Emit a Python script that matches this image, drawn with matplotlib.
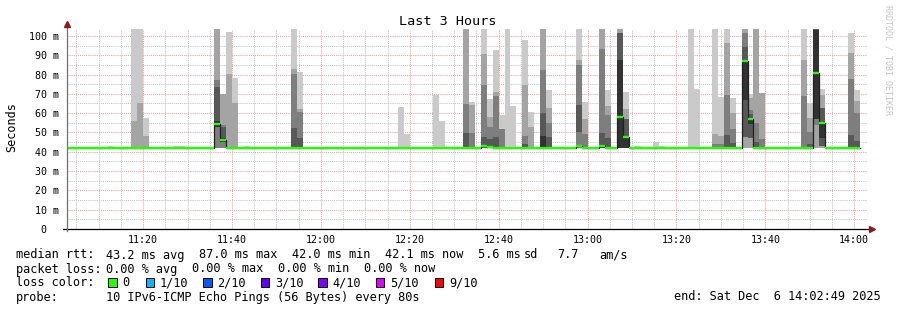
import matplotlib
matplotlib.use("Agg")
import matplotlib.pyplot as plt
from matplotlib.patches import Rectangle
from matplotlib.ticker import MultipleLocator

plt.rcParams["font.family"] = ["DejaVu Sans Mono"]

W, H = 897, 310

# time axis in minutes after 11:00
view_start = 2 + 49 / 60      # 11:02:49
view_end = 182 + 49 / 60      # 14:02:49
step = 80 / 60                # one probe round every 80 s
first_step = 2 + 40 / 60      # 11:02:40

x_ticks = [20, 40, 60, 80, 100, 120, 140, 160, 180]
x_labels = ["11:20", "11:40", "12:00", "12:20", "12:40",
            "13:00", "13:20", "13:40", "14:00"]
y_ticks = [0, 10, 20, 30, 40, 50, 60, 70, 80, 90, 100]
y_labels = ["  0  ", " 10 m", " 20 m", " 30 m", " 40 m", " 50 m",
            " 60 m", " 70 m", " 80 m", " 90 m", "100 m"]

# median rtt per 80 s step (ms)
median_ms = [
    42.0, 42.0, 42.0, 42.0, 42.0, 42.0, 42.0, 42.0, 42.0, 42.0,
    42.0, 42.0, 42.0, 42.0, 42.0, 42.0, 42.0, 42.0, 42.0, 42.0,
    42.0, 42.0, 42.0, 42.0, 42.0, 54.4, 46.1, 42.0, 42.0, 42.0,
    42.0, 42.0, 42.0, 42.0, 42.0, 42.0, 42.0, 42.0, 42.0, 42.0,
    42.0, 42.0, 42.0, 42.0, 42.0, 42.0, 42.0, 42.0, 42.0, 42.0,
    42.0, 42.0, 42.0, 42.0, 42.0, 42.0, 42.0, 42.0, 42.0, 42.0,
    42.0, 42.0, 42.0, 42.0, 42.0, 42.0, 42.0, 42.0, 42.0, 42.0,
    42.9, 42.6, 42.0, 42.0, 42.0, 42.0, 42.0, 42.0, 42.0, 42.0,
    42.0, 42.0, 42.0, 42.0, 42.0, 42.0, 42.8, 42.0, 42.0, 42.0,
    43.0, 42.0, 42.0, 58.0, 47.6, 42.0, 42.0, 42.0, 42.0, 42.0,
    42.0, 42.0, 42.0, 42.0, 42.0, 42.0, 42.0, 42.0, 42.0, 42.0,
    42.0, 42.0, 42.0, 42.0, 87.0, 57.0, 42.0, 42.0, 42.0, 42.0,
    42.0, 42.0, 42.0, 42.0, 42.0, 42.0, 80.8, 55.0, 42.0, 42.0,
    42.0, 42.0, 42.0, 42.1,
]

# steps where the 10 pings spread out, with the sorted ping times (ms)
smoke_steps = [7, 11, 12, 13, 18, 19, 25, 26, 27, 28, 30, 38, 39, 56, 57,
               62, 63, 67, 68, 70, 71, 72, 73, 74, 75, 77, 78, 80, 81, 86,
               87, 90, 91, 93, 94, 96, 99, 100, 105, 106, 109, 110, 111,
               112, 114, 115, 116, 117, 124, 125, 126, 127, 132, 133]
smoke_pings = [
    [42, 42, 42, 42, 42, 42, 42, 42, 42, 43],
    [42, 42, 42, 42, 42, 42, 42, 42, 55.9, 110],
    [42, 42, 42, 42, 42, 42, 42, 42, 65.3, 110],
    [42, 42, 42, 42, 42, 42, 42, 42, 48.1, 57.5],
    [42, 42, 42, 42, 42, 42, 42, 42, 42, 42.9],
    [42, 42, 42, 42, 42, 42, 42, 42, 42, 42.9],
    [42, 42, 42, 52.6, 52.6, 56, 73.5, 77, 110, 110],
    [42, 42, 42, 45, 45, 47, 52.6, 53.8, 69.8, 69.8],
    [42, 42, 42, 42, 42, 42, 42, 42, 80.3, 102],
    [42, 42, 42, 42, 42, 42, 42, 42, 65.2, 78.2],
    [42, 42, 42, 42, 42, 42, 42, 42, 42, 42.9],
    [42, 42, 42, 42, 42, 42, 52.3, 80.3, 82.9, 110],
    [42, 42, 42, 42, 42, 42, 47.1, 60.6, 62, 81.3],
    [42, 42, 42, 42, 42, 42, 42, 42, 42, 63.2],
    [42, 42, 42, 42, 42, 42, 42, 42, 42, 49.2],
    [42, 42, 42, 42, 42, 42, 42, 42, 42, 69.6],
    [42, 42, 42, 42, 42, 42, 42, 42, 42, 55.9],
    [42, 42, 42, 42, 42, 42, 49.8, 64.8, 110, 110],
    [42, 42, 42, 42, 42, 42, 42, 49.9, 64.1, 65.8],
    [42, 42, 42, 42, 42.5, 43.3, 47.6, 74.4, 90.5, 110],
    [42, 42, 42, 42, 42.3, 42.9, 46.5, 52.8, 58, 67.3],
    [42, 42, 42, 42, 42, 42, 47.5, 69, 71, 92.7],
    [42, 42, 42, 42, 42, 42, 42, 51.6, 51.6, 59],
    [42, 42, 42, 42, 42, 42, 42, 42, 42, 110],
    [42, 42, 42, 42, 42, 42, 42, 42, 42, 63.7],
    [42, 42, 42, 42, 42, 42, 44, 48.3, 74.5, 97.9],
    [42, 42, 42, 42, 42, 42, 42, 42, 52.8, 60.6],
    [42, 42, 42, 42, 42, 48.1, 60.2, 82.5, 110, 110],
    [42, 42, 42, 42, 42, 42, 47.5, 55, 62.6, 71.9],
    [42, 42, 42, 50.2, 50.2, 50.2, 64, 85.1, 87.4, 110],
    [42, 42, 42, 42, 42, 42, 42, 49, 57, 65.5],
    [42, 42, 42, 42, 42, 43, 49.8, 93.2, 110, 110],
    [42, 42, 42, 42, 42, 42, 47, 59, 63.7, 72],
    [42, 42, 42, 42, 42, 87.7, 101.5, 101.5, 110, 110],
    [42, 42, 42, 42, 42, 47.5, 57, 57, 62.1, 70.8],
    [42, 42, 42, 42, 42, 42, 42, 42, 42, 43],
    [42, 42, 42, 42, 42, 42, 42, 42, 42, 44.9],
    [42, 42, 42, 42, 42, 42, 42, 42, 42, 43],
    [42, 42, 42, 42, 42, 42, 42, 42, 42, 110],
    [42, 42, 42, 42, 42, 42, 42, 42, 42, 72.3],
    [42, 42, 42, 42, 42, 42, 42, 44, 49, 110],
    [42, 42, 42, 42, 42, 42, 42, 44, 48, 68.4],
    [42, 42, 42, 42, 42, 42, 48.5, 69.6, 96.5, 110],
    [42, 42, 42, 42, 42, 42, 44.5, 52, 60.2, 67.8],
    [42, 42, 47.8, 47.8, 66.8, 87, 94.4, 101.5, 110, 110],
    [42, 42, 47, 47, 54.4, 57, 59.5, 61.6, 67.8, 69.9],
    [42, 42, 42, 42, 42, 42, 45, 55, 110, 110],
    [42, 42, 42, 42, 42, 42, 42, 46.8, 70.6, 70.6],
    [42, 42, 42, 42, 42, 42, 42, 68.9, 87.5, 110],
    [42, 42, 42, 42, 42, 42, 44, 50, 57.3, 65.4],
    [42, 42, 54, 57, 57, 103, 104, 104, 110, 110],
    [42, 42, 43, 43, 47, 55, 62.8, 62.8, 69.4, 72.3],
    [42, 42, 42, 42, 42, 42, 48.5, 77.6, 91, 101.6],
    [42, 42, 42, 42, 42, 42, 45.5, 60, 66.2, 72],
]

loss_labels = ["0", "1/10", "2/10", "3/10", "4/10", "5/10", "9/10"]
loss_colors = ["#26ff00", "#00b8ff", "#0059ff", "#5e00ff",
               "#7e00ff", "#dd00ff", "#ff0000"]

# smokeping greys, outer pair lightest
smoke_grey = ["#cacaca", "#a4a4a4", "#7e7e7e", "#585858", "#323232"]


def px(x, y):
    return x / W, 1 - y / H


fig = plt.figure(figsize=(W / 100, H / 100), dpi=100)
fig.patch.set_facecolor("white")
ax = fig.add_axes([66.7 / W, 1 - 228.8 / H, 800 / W, 200 / H])
ax.set_xlim(view_start, view_end)
ax.set_ylim(0, 103.7)

# smoke: pairs of sorted pings, inner pairs darker
xs = [first_step + s * step for s in smoke_steps]
for band in range(5):
    lo = [p[band] for p in smoke_pings]
    hi = [p[9 - band] for p in smoke_pings]
    ax.bar(xs, [h - l for h, l in zip(hi, lo)], width=step, bottom=lo,
           align="edge", color=smoke_grey[band], linewidth=0, zorder=1)

# median: thin dark step line plus the loss-coloured band
edges = [first_step + i * step for i in range(len(median_ms) + 1)]
ax.step(edges, median_ms + [median_ms[-1]], where="post",
        color="#202020", lw=0.9, zorder=2)
ax.hlines(median_ms, edges[:-1], edges[1:], colors=loss_colors[0],
          lw=1.7, zorder=2.1)

# grid under the data
ax.set_xticks(x_ticks)
ax.set_xticklabels(x_labels)
ax.set_yticks(y_ticks)
ax.set_yticklabels(y_labels)
ax.xaxis.set_minor_locator(MultipleLocator(5))
ax.yaxis.set_minor_locator(MultipleLocator(5))
ax.set_axisbelow(True)
ax.grid(which="major", color="#f0a0a0", lw=0.75, ls=(0, (1, 1)))
ax.grid(which="minor", color="#c4c4c4", lw=0.75, ls=(0, (1, 1)))
for s in ax.spines.values():
    s.set_visible(False)
ax.tick_params(which="both", length=0)
ax.tick_params(axis="x", labelsize=7.2, pad=4.2)
ax.tick_params(axis="y", labelsize=7.2, pad=26.8)
plt.setp(ax.get_yticklabels(), ha="left")

# axes with arrows
ax.plot([-4 / 800, 1 + 3 / 800], [0, 0], transform=ax.transAxes,
        color="black", lw=0.9, clip_on=False, zorder=3)
ax.plot([0, 0], [-2 / 200, 1 + 5 / 200], transform=ax.transAxes,
        color="#707070", lw=0.9, clip_on=False, zorder=3)
ax.plot([0], [1 + 4.5 / 200], marker="^", ms=4.2, color="#8b1a1a",
        transform=ax.transAxes, clip_on=False, zorder=4)
ax.plot([1 + 5 / 800], [0], marker=">", ms=4.2, color="#8b1a1a",
        transform=ax.transAxes, clip_on=False, zorder=4)

fig.text(*px(448, 25), "Last 3 Hours", ha="center", va="baseline",
         fontsize=9.7)
fig.text(*px(11.8, 127), "Seconds", rotation=90, ha="center", va="center",
         fontsize=8.5)
fig.text(*px(888, 60), "RRDTOOL / TOBI OETIKER", rotation=270,
         ha="center", va="center", fontsize=6, color="#c4c4c4")

# legend block
leg = dict(fontsize=8.55, va="baseline", ha="left")
row1 = [("median rtt:", 15.5), ("43.2 ms avg", 106), ("87.0 ms max", 199),
        ("42.0 ms min", 292), ("42.1 ms now", 385), ("5.6 ms", 478),
        ("sd", 524), ("7.7", 557), ("am/s", 599)]
row2 = [("packet loss:", 15.5), ("0.00 % avg", 106), ("0.00 % max", 192),
        ("0.00 % min", 278), ("0.00 % now", 364)]
for txt, x in row1:
    fig.text(*px(x, 258.5), txt, **leg)
for txt, x in row2:
    fig.text(*px(x, 272.5), txt, **leg)

fig.text(*px(15.5, 286.5), "loss color:", **leg)
box_x = [108.3, 145.7, 203.3, 261, 318.3, 376, 435]
lab_x = [122.7, 159.3, 217, 275, 332.7, 390.4, 449.3]
for lab, col, bx, lx in zip(loss_labels, loss_colors, box_x, lab_x):
    fig.patches.append(Rectangle(px(bx, 286.7), 8.4 / W, 9 / H,
                                 transform=fig.transFigure, facecolor=col,
                                 edgecolor="black", lw=0.7))
    fig.text(*px(lx, 286.5), lab, **leg)

fig.text(*px(15.5, 300.5), "probe:", **leg)
fig.text(*px(106, 300.5), "10 IPv6-ICMP Echo Pings (56 Bytes) every 80s", **leg)
fig.text(*px(880.5, 300.5), "end: Sat Dec  6 14:02:49 2025",
         fontsize=8.55, va="baseline", ha="right")

fig.savefig("out.png", dpi=100, facecolor="white")
